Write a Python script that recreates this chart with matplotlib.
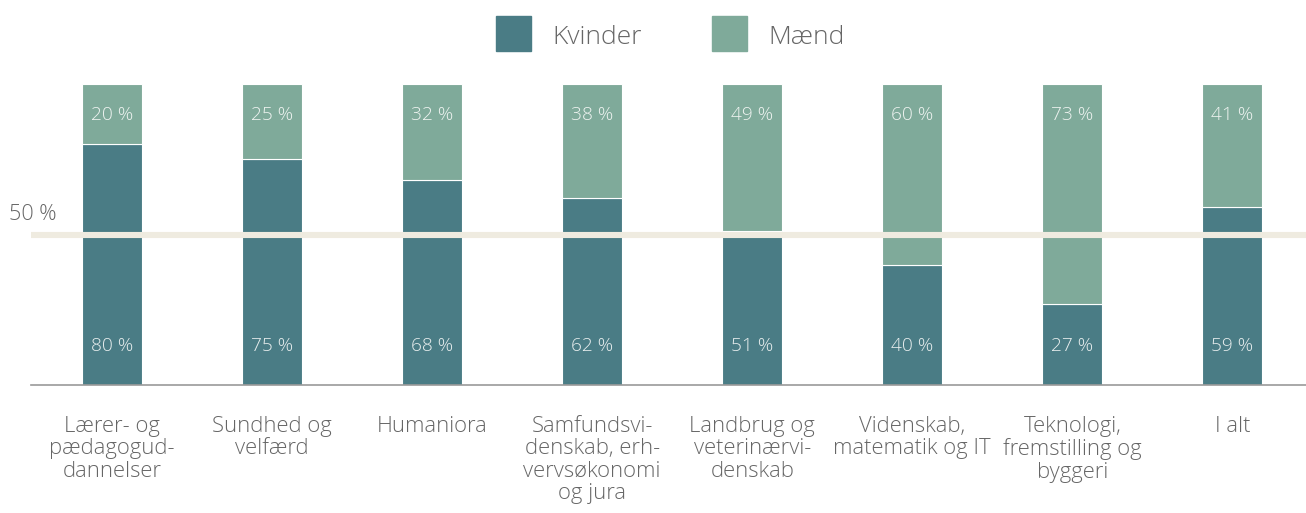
import numpy as np
import matplotlib.pyplot as plt
from matplotlib.patches import Rectangle

plt.rcParams['font.family'] = ['Open Sans', 'DejaVu Sans']

categories = ["Lærer- og\npædagogud-\ndannelser", "Sundhed og\nvelfærd", "Humaniora",
              "Samfundsvi-\ndenskab, erh-\nvervsøkonomi\nog jura", "Landbrug og\nveterinærvi-\ndenskab",
              "Videnskab,\nmatematik og IT", "Teknologi,\nfremstilling og\nbyggeri", "I alt"]
kvinder = [80, 75, 68, 62, 51, 40, 27, 59]
maend = [20, 25, 32, 38, 49, 60, 73, 41]

c_kvinder = "#4a7c85"
c_maend = "#7faa9a"
c_line = "#efebe0"
c_text = "#666666"

fig = plt.figure(figsize=(13.06, 5.13), dpi=100)
ax = fig.add_axes([31 / 1306, 128 / 513, 1275 / 1306, 301 / 513])

x = np.arange(len(categories))
ax.bar(x, kvinder, width=0.375, color=c_kvinder, edgecolor="white", linewidth=0.8, zorder=2)
ax.bar(x, maend, bottom=kvinder, width=0.375, color=c_maend, edgecolor="white", linewidth=0.8, zorder=2)

# 50 % reference line
ax.axhline(50, color=c_line, linewidth=4.4, zorder=3)
ax.text(-0.345, 53, "50 %", ha="right", va="bottom", fontsize=15.5, color=c_text,
        fontweight="light", clip_on=False)

for i in range(len(categories)):
    ax.text(x[i], 13, f"{kvinder[i]} %", ha="center", va="center", fontsize=13.8,
            color="#e8eeee", fontweight="light", zorder=4)
    ax.text(x[i], 89.7, f"{maend[i]} %", ha="center", va="center", fontsize=13.8,
            color="#eef3f0", fontweight="light", zorder=4)
    ax.text(x[i], -10.3, categories[i], ha="center", va="top", fontsize=15.8, color=c_text,
            fontweight="light", linespacing=1.08, clip_on=False)

ax.set_xlim(-0.506, 7.46)
ax.set_ylim(0, 100)
for s in ["top", "right", "left"]:
    ax.spines[s].set_visible(False)
ax.spines["bottom"].set_color("#999999")
ax.spines["bottom"].set_linewidth(1.2)
ax.set_xticks([])
ax.set_yticks([])

# legend
fig.patches.append(Rectangle((496 / 1306, 1 - 51 / 513), 35 / 1306, 35 / 513,
                             transform=fig.transFigure, color=c_kvinder))
fig.patches.append(Rectangle((712 / 1306, 1 - 51 / 513), 35 / 1306, 35 / 513,
                             transform=fig.transFigure, color=c_maend))
fig.text(552 / 1306, 1 - 37 / 513, "Kvinder", ha="left", va="center", fontsize=19,
         color=c_text, fontweight="light")
fig.text(768 / 1306, 1 - 37 / 513, "Mænd", ha="left", va="center", fontsize=19,
         color=c_text, fontweight="light")

fig.savefig("out.png", dpi=100)
